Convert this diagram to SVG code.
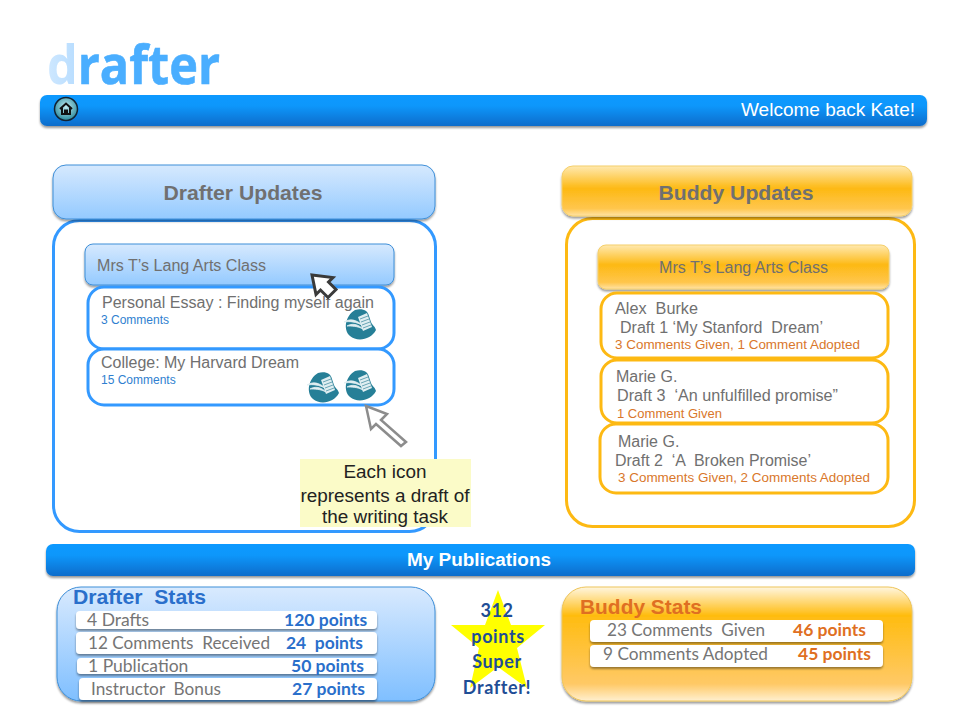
<svg xmlns="http://www.w3.org/2000/svg" width="960" height="720" viewBox="0 0 960 720">
<style>
text{font-family:"Liberation Sans",Arial,sans-serif;white-space:pre}
.cal{font-family:Lato,"Open Sans",sans-serif;font-size:17.5px}
.g{fill:#757575}
.gl{font-size:16px;fill:#707070}
.cb{font-size:12px;fill:#2f7fd0}
.co{font-size:12px;fill:#d9772b}
.row{fill:#fff;stroke-width:3}
.rb{stroke:#3399ff}
.ry{stroke:#fdb913}
.sr{fill:#fff;filter:url(#sh)}
.bp{font-weight:700;fill:#2a6fcb}
.op{font-weight:700;fill:#df6f22}
.st{font-family:Lato,"Open Sans",sans-serif;font-size:18px;font-weight:700;fill:#1f4e96;text-anchor:middle;letter-spacing:.6px}
</style>
<defs>
<linearGradient id="bar" x1="0" y1="0" x2="0" y2="1"><stop offset="0" stop-color="#1199ff"/><stop offset=".35" stop-color="#1197fb"/><stop offset="1" stop-color="#0b6ccb"/></linearGradient>
<linearGradient id="lb" x1="0" y1="0" x2="0" y2="1"><stop offset="0" stop-color="#d6e9fe"/><stop offset="1" stop-color="#94caff"/></linearGradient>
<linearGradient id="yb" x1="0" y1="0" x2="0" y2="1"><stop offset="0" stop-color="#ffe9b0"/><stop offset=".45" stop-color="#fdb913"/><stop offset=".85" stop-color="#ffc64d"/><stop offset="1" stop-color="#ffe3a6"/></linearGradient>
<linearGradient id="ys" x1="0" y1="0" x2="0" y2="1"><stop offset="0" stop-color="#fff6e0"/><stop offset=".25" stop-color="#ffbc10"/><stop offset=".85" stop-color="#ffc966"/><stop offset="1" stop-color="#fff0d0"/></linearGradient>
<linearGradient id="ds" x1="0" y1="0" x2="0" y2="1"><stop offset="0" stop-color="#d9eafe"/><stop offset="1" stop-color="#7fbfff"/></linearGradient>
<linearGradient id="dfade" x1="0" y1="0" x2="1" y2="0"><stop offset="0" stop-color="#cfe8ff"/><stop offset=".5" stop-color="#8cc8ff"/><stop offset=".85" stop-color="#4aaeff"/></linearGradient>
<radialGradient id="home" cx=".5" cy=".4" r=".6"><stop offset="0" stop-color="#bfeaf0"/><stop offset="1" stop-color="#2b8a9c"/></radialGradient>
<filter id="sh" x="-5%" y="-20%" width="110%" height="150%"><feDropShadow dx="0" dy="2" stdDeviation="1.3" flood-color="#000" flood-opacity=".4"/></filter>
<g id="ic">
<path d="M-5-15C3-17 8-14 9-9L11-3C12 0 15 1 16 5C11 15-3 17-10 11C-17 5-15-9-5-15Z" fill="#267f97"/>
<path d="M-2-8L7-12L12 2L3 6Z" fill="#dfeef1"/>
<path d="M0-6L8-9M1-3L9-6M2 0L10-3M3 3L11 0" stroke="#6aa5b5" stroke-width="1"/>
<path d="M-16-3C-10-7-3-5 2 0C-4-3-10-4-16-3ZM-13 1C-8-2-2-1 3 4C-3 1-8 1-13 1Z" fill="#dfeef1" stroke="#dfeef1" stroke-width=".8"/>
</g>
</defs>
<rect width="960" height="720" fill="#fff"/>
<g id="logo"><text x="47" y="84" font-size="54" font-weight="700" fill="#4aaeff" textLength="173" lengthAdjust="spacingAndGlyphs" stroke="#4aaeff" stroke-width=".6" style="font-family:'Open Sans',sans-serif"><tspan fill="url(#dfade)" stroke="none">d</tspan>rafter</text></g>
<g id="top-bar"><rect x="40" y="95" width="887" height="31" rx="7" fill="url(#bar)" filter="url(#sh)"/>
<circle cx="66" cy="109" r="11.500" fill="url(#home)" stroke="#123" stroke-width="1.500"/>
<path d="M60 109L66 103.500L72 109M62 108V114H65V110.500H67V114H70V108" fill="none" stroke="#111" stroke-width="2"/>
<text x="915" y="116" font-size="18.500" fill="#fff" text-anchor="end" textLength="174" lengthAdjust="spacingAndGlyphs">Welcome back Kate!</text></g>
<g id="drafter-updates">
<rect x="53.500" y="220.500" width="382" height="311" rx="26" fill="#fff" stroke="#3399ff" stroke-width="3"/>
<rect x="53" y="165" width="382" height="54" rx="13" fill="url(#lb)" stroke="#3f8fd8" filter="url(#sh)"/>
<text x="243" y="200" font-size="21" font-weight="700" fill="#707070" text-anchor="middle" textLength="159" lengthAdjust="spacingAndGlyphs">Drafter Updates</text></g>
<g id="drafter-class"><rect x="85" y="244" width="309" height="41" rx="8" fill="url(#lb)" stroke="#3f8fd8" filter="url(#sh)"/>
<text x="97" y="271" class="gl" textLength="169" lengthAdjust="spacingAndGlyphs">Mrs T’s Lang Arts Class</text></g>
<g id="draft-personal"><rect x="88" y="287" width="306" height="62" rx="16" class="row rb"/>
<text x="102" y="308" class="gl" textLength="272" lengthAdjust="spacingAndGlyphs">Personal Essay : Finding myself again</text>
<text x="101" y="324" class="cb">3 Comments</text><use href="#ic" x="360" y="325"/></g>
<g id="draft-college"><rect x="88" y="349" width="306" height="56" rx="16" class="row rb"/>
<text x="101" y="368" class="gl" textLength="198" lengthAdjust="spacingAndGlyphs">College: My Harvard Dream</text>
<text x="101" y="384" class="cb">15 Comments</text><use href="#ic" x="323" y="388"/><use href="#ic" x="360" y="386"/></g>
<g id="connectors">
<path d="M312 275L333 277.500L328.500 282L336 289.500L328 297.500L320.500 290L316 294.500Z" fill="#fff" stroke="#3a3a3a" stroke-width="3"/>
<path d="M366 406L387 414L381 420L406 442L401 446L376 424L371 429Z" fill="#fff" stroke="#8c8c8c" stroke-width="2.500"/>
</g>
<g id="note"><rect x="300" y="459" width="171" height="68" fill="#fbfbc8"/>
<g font-size="18.900" fill="#222" text-anchor="middle"><text x="385" y="478">Each icon</text><text x="385" y="502">represents a draft of</text><text x="385" y="523">the writing task</text></g></g>
<g id="buddy-updates">
<rect x="566.500" y="218.500" width="348" height="308" rx="26" fill="#fff" stroke="#fdb913" stroke-width="3"/>
<rect x="562" y="166" width="350" height="50" rx="11" fill="url(#yb)" stroke="#f5cf6a" filter="url(#sh)"/>
<text x="736" y="200" font-size="21" font-weight="700" fill="#707070" text-anchor="middle" textLength="155" lengthAdjust="spacingAndGlyphs">Buddy Updates</text></g>
<g id="buddy-class"><rect x="598" y="245" width="291" height="44" rx="8" fill="url(#yb)" stroke="#f5cf6a" filter="url(#sh)"/>
<text x="659" y="273" class="gl" textLength="169" lengthAdjust="spacingAndGlyphs">Mrs T’s Lang Arts Class</text></g>
<g id="buddy-alex"><rect x="601" y="293" width="287" height="65" rx="16" class="row ry"/>
<text x="615" y="314" class="gl" textLength="83" lengthAdjust="spacingAndGlyphs">Alex  Burke</text><text x="620" y="333" class="gl" textLength="203" lengthAdjust="spacingAndGlyphs">Draft 1 ‘My Stanford  Dream’</text>
<text x="615" y="349" class="co" textLength="245" lengthAdjust="spacingAndGlyphs">3 Comments Given, 1 Comment Adopted</text></g>
<g id="buddy-marie3"><rect x="601" y="360" width="287" height="63" rx="16" class="row ry"/>
<text x="616" y="382" class="gl">Marie G.</text><text x="617" y="401" class="gl" textLength="221" lengthAdjust="spacingAndGlyphs">Draft 3  ‘An unfulfilled promise”</text>
<text x="617" y="418" class="co" textLength="105" lengthAdjust="spacingAndGlyphs">1 Comment Given</text></g>
<g id="buddy-marie2"><rect x="600" y="424" width="288" height="69" rx="16" class="row ry"/>
<text x="618" y="447" class="gl">Marie G.</text><text x="615" y="466" class="gl" textLength="196" lengthAdjust="spacingAndGlyphs">Draft 2  ‘A  Broken Promise’</text>
<text x="618" y="482" class="co" textLength="252" lengthAdjust="spacingAndGlyphs">3 Comments Given, 2 Comments Adopted</text></g>
<g id="publications-bar"><rect x="46" y="544" width="869" height="32" rx="7" fill="url(#bar)" filter="url(#sh)"/>
<text x="479" y="566" font-size="18" font-weight="700" fill="#fff" text-anchor="middle" textLength="144" lengthAdjust="spacingAndGlyphs">My Publications</text></g>
<g id="drafter-stats"><rect x="57" y="587" width="378" height="114" rx="24" fill="url(#ds)" stroke="#3f8fd8" filter="url(#sh)"/>
<text x="73" y="604" font-size="20.500" font-weight="700" fill="#2a6fcb" textLength="133" lengthAdjust="spacingAndGlyphs">Drafter  Stats</text>
<rect x="76" y="611" width="301" height="18" rx="4" class="sr"/><text x="87" y="626" class="cal g">4 Drafts</text><text x="284" y="626" class="cal bp">120 points</text>
<rect x="76" y="632" width="301" height="22" rx="4" class="sr"/><text x="88" y="649" class="cal g" textLength="182" lengthAdjust="spacingAndGlyphs">12 Comments  Received</text><text x="286" y="649" class="cal bp" textLength="77" lengthAdjust="spacingAndGlyphs">24  points</text>
<rect x="77" y="658" width="300" height="16" rx="4" class="sr"/><text x="88" y="672" class="cal g">1 Publication</text><text x="291" y="672" class="cal bp">50 points</text>
<rect x="79" y="678" width="298" height="22" rx="4" class="sr"/><text x="91" y="695" class="cal g" textLength="130" lengthAdjust="spacingAndGlyphs">Instructor  Bonus</text><text x="292" y="695" class="cal bp">27 points</text></g>
<g id="star"><path d="M498 590L511 625H545L517 648L527 688L498 667L470 688L479 648L451 625H485Z" fill="#ffff00"/>
<text x="497" y="617" class="st">312</text><text x="498" y="643" class="st">points</text><text x="497" y="668" class="st">Super</text><text x="497" y="694" class="st">Drafter!</text></g>
<g id="buddy-stats"><rect x="562" y="587" width="350" height="114" rx="24" fill="url(#ys)" stroke="#eec55a" filter="url(#sh)"/>
<text x="580" y="614" font-size="20.500" font-weight="700" fill="#df6f22" textLength="122" lengthAdjust="spacingAndGlyphs">Buddy Stats</text>
<rect x="590" y="620" width="293" height="22" rx="4" class="sr"/><text x="607" y="636" class="cal g" textLength="158" lengthAdjust="spacingAndGlyphs">23 Comments  Given</text><text x="793" y="636" class="cal op">46 points</text>
<rect x="590" y="645" width="293" height="22" rx="4" class="sr"/><text x="603" y="660" class="cal g" textLength="165" lengthAdjust="spacingAndGlyphs">9 Comments Adopted</text><text x="798" y="660" class="cal op">45 points</text></g>
</svg>
